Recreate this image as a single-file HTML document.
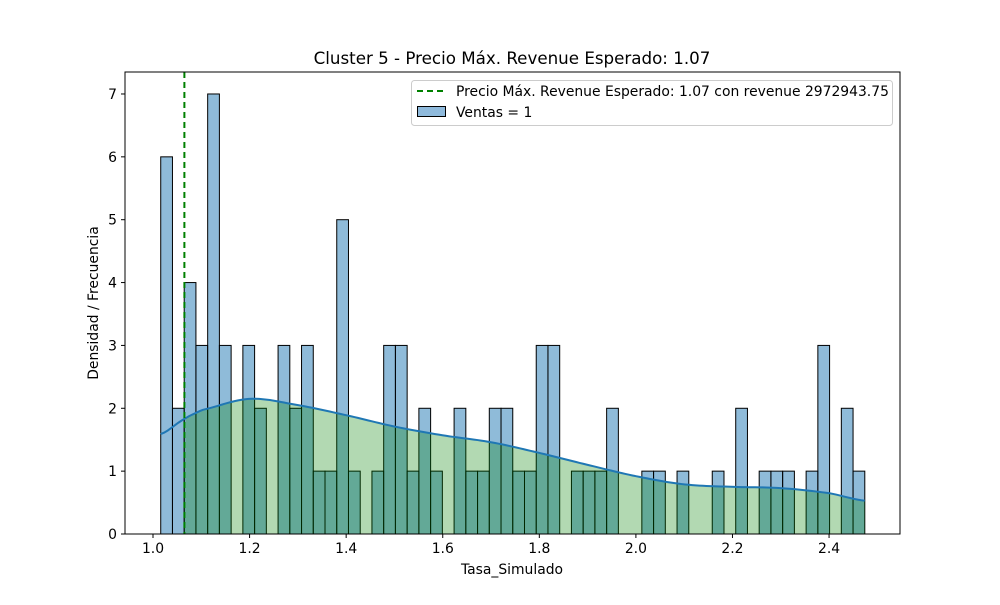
<!DOCTYPE html>
<html><head><meta charset="utf-8"><style>
body{margin:0;background:#fff;}
svg text{font-family:"DejaVu Sans","Liberation Sans",sans-serif;fill:#000;}
</style></head><body>
<svg id="chart" width="1000" height="600" xmlns="http://www.w3.org/2000/svg">
<rect width="1000" height="600" fill="#fff"/>
<g id="plot"></g>
<text x="512" y="64" font-size="16.7" text-anchor="middle">Cluster 5 - Precio Máx. Revenue Esperado: 1.07</text>
<text x="512" y="574" font-size="13.9" text-anchor="middle">Tasa_Simulado</text>
<text x="0" y="0" font-size="13.9" text-anchor="middle" transform="translate(98,303) rotate(-90)">Densidad / Frecuencia</text>
<g>
<rect x="411.5" y="80.5" width="481" height="45" rx="3" fill="#fff" fill-opacity="0.8" stroke="#ccc"/>
<line x1="417" y1="91" x2="445" y2="91" stroke="green" stroke-width="2" stroke-dasharray="6,4"/>
<text x="456" y="96" font-size="13.9">Precio Máx. Revenue Esperado: 1.07 con revenue 2972943.75</text>
<rect x="417.5" y="106.5" width="28" height="10" fill="#8fbadc" stroke="#000"/>
<text x="456" y="117" font-size="13.9">Ventas = 1</text>
</g>
</svg>
<script>
const binStart = 1.016;
const binEnd = 2.474;
const counts = [6,2,4,3,7,3,0,3,2,0,3,2,3,1,1,5,1,0,1,3,3,1,2,1,0,2,1,1,2,2,1,1,3,3,0,1,1,1,2,0,0,1,1,0,1,0,0,1,0,2,0,1,1,1,0,1,3,0,2,1];
const kdeX = [1.016,1.065,1.1,1.2,1.3,1.4,1.5,1.6,1.7,1.8,1.9,2.0,2.1,2.2,2.3,2.4,2.474];
const kdeY = [1.59,1.83,1.97,2.15,2.05,1.89,1.71,1.57,1.46,1.29,1.1,0.92,0.79,0.75,0.73,0.65,0.53];
const maxPrice = 1.065;
const xTicks = [1.0,1.2,1.4,1.6,1.8,2.0,2.2,2.4];
const yTicks = [0,1,2,3,4,5,6,7];

const X0=125,X1=900,Y0=72,Y1=534;
const xs = v => 153 + (v-1.0)*482.9;
const ys = v => 534 - v*62.86;
const NS="http://www.w3.org/2000/svg";
const g=document.getElementById('plot');
function mk(t,a){const e=document.createElementNS(NS,t);for(const k in a)e.setAttribute(k,a[k]);g.appendChild(e);return e;}

const w=(binEnd-binStart)/counts.length;
counts.forEach((c,i)=>{
  if(c<=0)return;
  const x0=xs(binStart+i*w), x1=xs(binStart+(i+1)*w);
  const r=mk('rect',{x:x0,y:ys(c),width:x1-x0,height:ys(0)-ys(c),fill:'#1f77b4','fill-opacity':0.5,stroke:'#000','stroke-width':1});
  
  
});

function interp(x){
  let i=0;while(i<kdeX.length-2&&x>kdeX[i+1])i++;
  const p0=kdeY[Math.max(i-1,0)],p1=kdeY[i],p2=kdeY[i+1],p3=kdeY[Math.min(i+2,kdeY.length-1)];
  const t=(x-kdeX[i])/(kdeX[i+1]-kdeX[i]);
  return 0.5*((2*p1)+(-p0+p2)*t+(2*p0-5*p1+4*p2-p3)*t*t+(-p0+3*p1-3*p2+p3)*t*t*t);
}
const N=200;
let fillD=`M${xs(maxPrice)},${ys(0)}`, lineD='';
for(let k=0;k<=N;k++){
  const x=kdeX[0]+(kdeX[kdeX.length-1]-kdeX[0])*k/N;
  const y=interp(x);
  lineD+=(k?'L':'M')+xs(x).toFixed(2)+','+ys(y).toFixed(2);
  if(x>=maxPrice) fillD+='L'+xs(x).toFixed(2)+','+ys(y).toFixed(2);
}
fillD+=`L${xs(kdeX[kdeX.length-1])},${ys(0)}Z`;
const fa=mk('path',{d:fillD,fill:'green','fill-opacity':0.3,stroke:'none'});


const kl=mk('path',{d:lineD,fill:'none',stroke:'#1f77b4','stroke-width':2});



const vl=mk('line',{x1:xs(maxPrice),x2:xs(maxPrice),y1:Y0,y2:Y1,stroke:'green','stroke-width':2,'stroke-dasharray':'6,4'});



const fr=mk('rect',{x:X0,y:Y0,width:X1-X0,height:Y1-Y0,fill:'none',stroke:'#000','stroke-width':1});



xTicks.forEach(t=>{
  const x=xs(t);
  const l=mk('line',{x1:x,x2:x,y1:Y1,y2:Y1+4,stroke:'#000'});
  
  
  const tx=mk('text',{x:x,y:Y1+19,'font-size':13.9,'text-anchor':'middle'});
  tx.textContent=t.toFixed(1);
  
  
});
yTicks.forEach(t=>{
  const y=ys(t);
  const l=mk('line',{x1:X0-4,x2:X0,y1:y,y2:y,stroke:'#000'});
  
  
  const tx=mk('text',{x:X0-8,y:y+5,'font-size':13.9,'text-anchor':'end'});
  tx.textContent=t;
  
  
});
</script>
</body></html>
